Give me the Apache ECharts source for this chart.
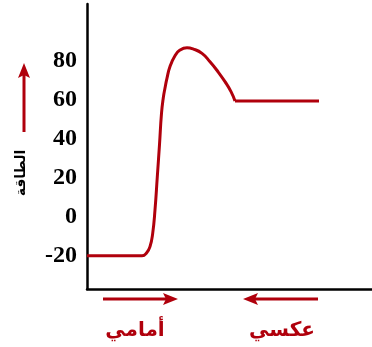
<!DOCTYPE html>
<html><head><meta charset="utf-8">
<script src="https://cdn.jsdelivr.net/npm/echarts@6/dist/echarts.min.js"></script>
<style>html,body{margin:0;padding:0;background:#fff}#c{width:372px;height:347px}</style>
</head><body><div id="c"></div>
<script>
// reaction coordinate (arbitrary units) and energy values
const curveX = [0, 55, 59.7, 63, 65.7, 68, 70.3, 72.5, 74.5, 76.3, 78, 80, 83, 88, 93, 100, 106, 115, 123, 131, 138, 144, 148];
const curveY = [-20, -20, -18.4, -15.3, -8.5, 3.5, 20.5, 37, 53, 61, 66, 71, 77, 82.5, 85.4, 86.6, 86, 83.7, 79.4, 74.3, 69.2, 64.1, 59.3];
const plateauX = [148, 232];
const plateauY = [59.3, 59.3];
const yTicks = [-20, 0, 20, 40, 60, 80];
const yName = 'الطاقة';
const forwardLabel = 'أمامي';
const reverseLabel = 'عكسي';

const red = '#b0000c';
const chart = echarts.init(document.getElementById('c'));
chart.setOption({
  animation: false,
  grid: {left: 87, right: 0, top: 4, bottom: 58},
  xAxis: {type: 'value', min: 0, max: 285,
    axisLine: {show: true, onZero: false, lineStyle: {color: '#000', width: 2.5}},
    axisTick: {show: false}, axisLabel: {show: false}, splitLine: {show: false}},
  yAxis: {type: 'value', min: -37, max: 109,
    axisLine: {show: true, lineStyle: {color: '#000', width: 2.5}},
    axisTick: {show: false}, splitLine: {show: false},
    axisLabel: {customValues: yTicks, color: '#000', fontWeight: 'bold', fontSize: 24,
      fontFamily: 'Liberation Serif', margin: 10}},
  series: [
    {type: 'line', data: curveX.map((x, i) => [x, curveY[i]]), smooth: 0.5, showSymbol: false,
      lineStyle: {color: red, width: 3}},
    {type: 'line', data: plateauX.map((x, i) => [x, plateauY[i]]), showSymbol: false,
      lineStyle: {color: red, width: 3}}
  ],
  graphic: [
    {type: 'text', x: 21, y: 173, rotation: Math.PI / 2,
      style: {text: yName, fill: '#000', font: 'bold 14px "DejaVu Sans"', textAlign: 'center', textVerticalAlign: 'middle'}},
    {type: 'line', shape: {x1: 24, y1: 132, x2: 24, y2: 72}, style: {stroke: red, lineWidth: 3}},
    {type: 'polygon', shape: {points: [[24, 63], [18, 78], [24, 75], [30, 78]]}, style: {fill: red}},
    {type: 'line', shape: {x1: 103, y1: 299, x2: 170, y2: 299}, style: {stroke: red, lineWidth: 3}},
    {type: 'polygon', shape: {points: [[178, 299], [163, 293], [166, 299], [163, 305]]}, style: {fill: red}},
    {type: 'line', shape: {x1: 250, y1: 299, x2: 318, y2: 299}, style: {stroke: red, lineWidth: 3}},
    {type: 'polygon', shape: {points: [[243, 299], [258, 293], [255, 299], [258, 305]]}, style: {fill: red}},
    {type: 'text', x: 135, y: 331, style: {text: forwardLabel, fill: red, font: 'bold 20px "DejaVu Sans"', textAlign: 'center', textVerticalAlign: 'middle'}},
    {type: 'text', x: 282, y: 331, style: {text: reverseLabel, fill: red, font: 'bold 20px "DejaVu Sans"', textAlign: 'center', textVerticalAlign: 'middle'}}
  ]
});
</script></body></html>
